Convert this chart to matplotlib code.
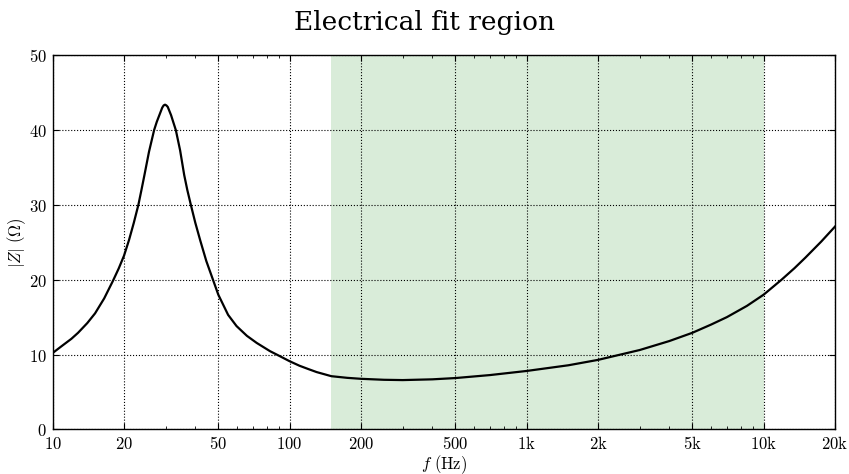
import matplotlib
matplotlib.use("Agg")
import matplotlib.pyplot as plt
from matplotlib.ticker import FixedLocator, FixedFormatter, LogLocator, NullFormatter

plt.rcParams["mathtext.fontset"] = "cm"
plt.rcParams["axes.formatter.use_mathtext"] = True

# Impedance magnitude of the driver (Hz, ohm)
freq = [10, 11, 12, 12.8, 14, 15.1, 16.5, 18.0, 19, 20, 21, 22, 23.0, 23.7, 24.4,
        25.5, 26.8, 27.5, 28.2, 29.0, 29.4, 29.8, 30.2, 30.6, 31.6, 32.3, 33.1,
        34.5, 35.9, 37, 38.3, 40, 42, 44.5, 47.6, 50, 55, 59.7, 66, 72.6, 82.6,
        90, 100, 110, 120, 130, 150, 175, 200, 250, 300, 400, 500, 700, 1000,
        1500, 2000, 3000, 4000, 5000, 6000, 7000, 8500, 10000, 11900, 13500,
        15000, 17500, 20000]
z_mag = [10.2, 11.2, 12.1, 12.9, 14.2, 15.5, 17.5, 19.9, 21.5, 23.2, 25.3, 27.6, 30.0, 32.0, 34.0,
         37.1, 40.0, 41.1, 42.0, 43.0, 43.3, 43.4, 43.3, 43.1, 42.0, 41.05, 40.0,
         37.3, 34.0, 32.0, 30.0, 27.6, 25.2, 22.5, 19.9, 18.0, 15.3, 13.8, 12.5, 11.55, 10.45,
         9.85, 9.1, 8.5, 8.05, 7.65, 7.1, 6.88, 6.75, 6.62, 6.58, 6.68, 6.85, 7.25, 7.8,
         8.56, 9.28, 10.6, 11.8, 12.9, 14.0, 15.0, 16.5, 18.0, 20.0, 21.55,
         22.95, 25.1, 27.1]

fit_band = (150, 10000)

xtick_vals = [10, 20, 50, 100, 200, 500, 1000, 2000, 5000, 10000, 20000]
xtick_labels = ["10", "20", "50", "100", "200", "500", "1k", "2k", "5k", "10k", "20k"]
ytick_vals = [0, 10, 20, 30, 40, 50]

fig = plt.figure(figsize=(8.49, 4.74), dpi=100)
ax = fig.add_axes([0.062, 0.0943, 0.9215, 0.789])

ax.axvspan(fit_band[0], fit_band[1], color="g", alpha=0.15, lw=0)
ax.plot(freq, z_mag, color="k", lw=1.6)

ax.set_xscale("log")
ax.set_xlim(10, 20000)
ax.set_ylim(0, 50)

ax.xaxis.set_major_locator(FixedLocator(xtick_vals))
ax.xaxis.set_major_formatter(FixedFormatter([r"$\mathrm{%s}$" % t for t in xtick_labels]))
ax.xaxis.set_minor_locator(LogLocator(base=10, subs=range(2, 10)))
ax.xaxis.set_minor_formatter(NullFormatter())
ax.yaxis.set_major_locator(FixedLocator(ytick_vals))
ax.yaxis.set_major_formatter(FixedFormatter([r"$%d$" % v for v in ytick_vals]))

ax.tick_params(which="both", direction="in", top=True, right=True, labelsize=12, pad=4)
ax.tick_params(which="major", length=4, width=0.8)
ax.tick_params(which="minor", length=2, width=0.6)

ax.grid(True, which="major", color="k", ls=":", lw=0.8)

for s in ax.spines.values():
    s.set_linewidth(1.0)

ax.set_xlabel(r"$f\ (\mathrm{Hz})$", fontsize=12, labelpad=0)
ax.set_ylabel(r"$|Z|\ (\Omega)$", fontsize=12, labelpad=0.5)

fig.text(0.5, 0.952, "Electrical fit region", ha="center", va="center",
         fontsize=19, family="DejaVu Serif")

fig.savefig("out.png", dpi=100)
